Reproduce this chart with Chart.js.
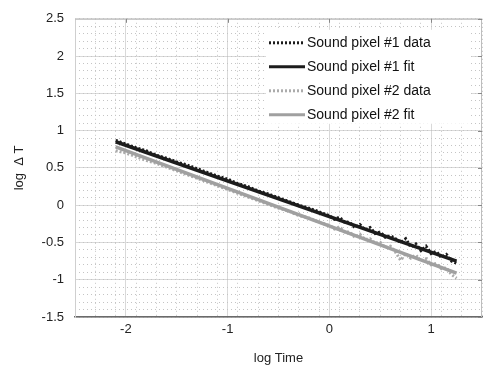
<!DOCTYPE html>
<html>
<head>
<meta charset="utf-8">
<script src="https://cdn.jsdelivr.net/npm/chart.js@4.4.0/dist/chart.umd.min.js"></script>
<style>
  body { margin: 0; background: #fff; }
  #wrap { width: 486px; height: 370px; }
</style>
</head>
<body>
<div id="wrap"><canvas id="myChart"></canvas></div>
<script>
// log Time values
var logTime = [-2.1, -2.0, -1.9, -1.8, -1.7, -1.6, -1.5, -1.4, -1.3, -1.2, -1.1, -1.0,
    -0.9, -0.8, -0.7, -0.6, -0.5, -0.4, -0.3, -0.2, -0.1, 0.0, 0.05, 0.1, 0.15, 0.2,
    0.25, 0.3, 0.35, 0.4, 0.45, 0.5, 0.55, 0.6, 0.65, 0.7, 0.75, 0.8, 0.85, 0.9, 0.95,
    1.0, 1.05, 1.1, 1.15, 1.2, 1.25];

// measured log dT, pixel #1
var pixel1Data = [0.87, 0.82, 0.77, 0.73, 0.67, 0.63, 0.58, 0.54, 0.49, 0.44, 0.39, 0.35,
    0.29, 0.25, 0.19, 0.15, 0.10, 0.05, 0.00, -0.04, -0.09, -0.14, -0.19, -0.16, -0.23, -0.23,
    -0.30, -0.26, -0.33, -0.30, -0.38, -0.36, -0.43, -0.41, -0.45, -0.50, -0.45, -0.56, -0.52, -0.61, -0.55,
    -0.65, -0.62, -0.70, -0.66, -0.75, -0.78];

// measured log dT, pixel #2
var pixel2Data = [0.73, 0.70, 0.65, 0.60, 0.56, 0.51, 0.46, 0.41, 0.36, 0.31, 0.26, 0.21,
    0.16, 0.11, 0.06, 0.01, -0.04, -0.08, -0.14, -0.17, -0.23, -0.27, -0.32, -0.29, -0.36, -0.36,
    -0.43, -0.39, -0.46, -0.45, -0.51, -0.50, -0.57, -0.55, -0.63, -0.74, -0.65, -0.71, -0.67, -0.75, -0.72,
    -0.80, -0.78, -0.85, -0.84, -0.93, -0.98];

// fitted lines (end points)
var fitX = [-2.1, 1.25];
var pixel1Fit = [0.851, -0.751];
var pixel2Fit = [0.781, -0.911];

var xTicks = [-2, -1, 0, 1];
var yTicks = [-1.5, -1, -0.5, 0, 0.5, 1, 1.5, 2, 2.5];

function pts(xs, ys) {
    return xs.map(function (x, i) { return { x: x, y: ys[i] }; });
}

var FONT = "'Liberation Sans', Arial, sans-serif";

// white legend box inside the plot, top right
var boxLegend = {
    id: 'boxLegend',
    afterDatasetsDraw: function (chart) {
        var ctx = chart.ctx;
        var a = chart.chartArea;
        var x0 = a.left + 191, y0 = a.top + 11;
        ctx.save();
        ctx.fillStyle = '#fff';
        ctx.fillRect(x0, y0, 205, 94);
        ctx.font = '14px ' + FONT;
        ctx.textBaseline = 'middle';
        chart.data.datasets.forEach(function (ds, i) {
            var y = y0 + 13 + i * 24;
            ctx.strokeStyle = ds.borderColor;
            ctx.lineWidth = 3;
            ctx.setLineDash(ds.borderDash || []);
            ctx.beginPath();
            ctx.moveTo(x0 + 3, y);
            ctx.lineTo(x0 + 39, y);
            ctx.stroke();
            ctx.setLineDash([]);
            ctx.fillStyle = '#111';
            ctx.fillText(ds.label, x0 + 41, y);
        });
        // frame top and right
        ctx.strokeStyle = '#bdbdbd';
        ctx.lineWidth = 1;
        ctx.beginPath();
        ctx.moveTo(a.left, a.top + 0.5);
        ctx.lineTo(a.right - 0.5, a.top + 0.5);
        ctx.lineTo(a.right - 0.5, a.bottom);
        ctx.stroke();
        // small ticks on top and right edges
        ctx.strokeStyle = '#888';
        var sx = chart.scales.x, sy = chart.scales.y;
        xTicks.forEach(function (v) {
            var p = Math.round(sx.getPixelForValue(v)) + 0.5;
            ctx.beginPath(); ctx.moveTo(p, a.top); ctx.lineTo(p, a.top + 4); ctx.stroke();
        });
        yTicks.forEach(function (v) {
            var p = Math.round(sy.getPixelForValue(v)) + 0.5;
            ctx.beginPath(); ctx.moveTo(a.right, p); ctx.lineTo(a.right - 4, p); ctx.stroke();
        });
        ctx.restore();
    }
};

var ctx = document.getElementById('myChart').getContext('2d');

var myChart = new Chart(ctx, {
    type: 'line',
    data: {
        datasets: [{
            label: 'Sound pixel #1 data',
            data: pts(logTime, pixel1Data),
            borderColor: '#1c1c1c',
            borderWidth: 3,
            borderDash: [2, 2],
            pointRadius: 0,
            order: 2
        }, {
            label: 'Sound pixel #1 fit',
            data: pts(fitX, pixel1Fit),
            borderColor: '#1c1c1c',
            borderWidth: 3.5,
            pointRadius: 0,
            order: 1
        }, {
            label: 'Sound pixel #2 data',
            data: pts(logTime, pixel2Data),
            borderColor: '#ababab',
            borderWidth: 3,
            borderDash: [2, 2],
            pointRadius: 0,
            order: 4
        }, {
            label: 'Sound pixel #2 fit',
            data: pts(fitX, pixel2Fit),
            borderColor: '#a0a0a0',
            borderWidth: 3.5,
            pointRadius: 0,
            order: 3
        }]
    },
    options: {
        responsive: true,
        maintainAspectRatio: false,
        animation: false,
        layout: { padding: { top: 16, right: 4, left: 0, bottom: 0 } },
        scales: {
            x: {
                type: 'linear',
                min: -2.5,
                max: 1.5,
                afterBuildTicks: function (s) { s.ticks = xTicks.map(function (v) { return { value: v }; }); },
                afterFit: function (s) { s.height = 53; },
                ticks: {
                    color: '#222',
                    font: { family: FONT, size: 13 },
                    padding: 5,
                    callback: function (v) { return String(v); }
                },
                grid: { color: '#d9d9d9', drawTicks: false },
                border: { color: '#6a6a6a', width: 1.5 },
                title: {
                    display: true,
                    text: 'log Time',
                    color: '#222',
                    font: { family: FONT, size: 13 },
                    padding: { top: 6 }
                }
            },
            x2: {
                type: 'linear',
                position: 'bottom',
                min: -2.5,
                max: 1.5,
                ticks: { display: false, stepSize: 0.2 },
                grid: { color: '#c4c4c4', drawTicks: false },
                border: { display: false, dash: [1, 3] },
                afterFit: function (s) { s.height = 0; }
            },
            y: {
                min: -1.5,
                max: 2.5,
                afterBuildTicks: function (s) { s.ticks = yTicks.map(function (v) { return { value: v }; }); },
                afterFit: function (s) { s.width = 75; },
                ticks: {
                    color: '#222',
                    font: { family: FONT, size: 13 },
                    padding: 11,
                    callback: function (v) { return String(v); }
                },
                grid: { color: '#d9d9d9', drawTicks: false },
                border: { color: '#cfcfcf', width: 1 },
                title: {
                    display: true,
                    text: 'log  \u0394 T',
                    color: '#222',
                    font: { family: FONT, size: 13 },
                    padding: { top: 12, bottom: 0 }
                }
            },
            y2: {
                type: 'linear',
                position: 'left',
                min: -1.5,
                max: 2.5,
                ticks: { display: false, stepSize: 0.1 },
                grid: { color: '#c4c4c4', drawTicks: false },
                border: { display: false, dash: [1, 3] },
                afterFit: function (s) { s.width = 0; }
            }
        },
        plugins: {
            legend: { display: false },
            tooltip: { enabled: false }
        }
    },
    plugins: [boxLegend]
});
</script>
</body>
</html>
